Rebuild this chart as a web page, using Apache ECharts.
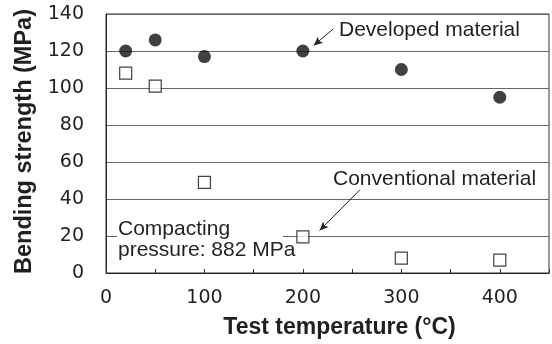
<!DOCTYPE html>
<html><head><meta charset="utf-8">
<script src="https://cdn.jsdelivr.net/npm/echarts@6/dist/echarts.min.js"></script>
<style>html,body{margin:0;padding:0;background:#fff}#c{width:552px;height:344px}</style>
</head><body><div id="c"></div>
<script>
var temperatures = [20, 50, 100, 200, 300, 400];
var developed = [120, 126, 117, 120, 110, 95];
var conventional = [108, 101, 49, 19.5, 8, 7];
var yTicks = [0, 20, 40, 60, 80, 100, 120, 140];
var xTicks = [0, 100, 200, 300, 400];
var arrowDeveloped = [[231, 132], [211, 123]];
var arrowConventional = [[258, 45], [217, 23]];

var chart = echarts.init(document.getElementById('c'));
var txt = '#231f20';
chart.setOption({
  animation: false,
  grid: {left: 106, right: 2, top: 14, bottom: 70, show: true, borderColor: '#333', borderWidth: 1, backgroundColor: 'transparent'},
  xAxis: {
    type: 'value', min: 0, max: 450, interval: 50,
    name: 'Test temperature (°C)', nameLocation: 'middle', nameGap: 43,
    nameTextStyle: {fontFamily: 'Liberation Sans', fontWeight: 'bold', fontSize: 23, color: txt, padding: [0, 0, 0, 24]},
    axisLine: {show: true, lineStyle: {color: '#222', width: 1}},
    axisTick: {show: true, inside: true, length: 4, lineStyle: {color: '#333'}},
    axisLabel: {fontFamily: 'DejaVu Sans', fontSize: 19, color: txt, margin: 16,
      formatter: function (v) { return xTicks.indexOf(v) >= 0 ? String(v) : ''; }},
    splitLine: {show: false}
  },
  yAxis: {
    type: 'value', min: 0, max: 140, interval: 20,
    name: 'Bending strength (MPa)', nameLocation: 'middle', nameGap: 68,
    nameTextStyle: {fontFamily: 'Liberation Sans', fontWeight: 'bold', fontSize: 23.5, color: txt, padding: [0, 0, 0, 4]},
    axisLine: {show: true, lineStyle: {color: '#222', width: 1}},
    axisTick: {show: false},
    axisLabel: {fontFamily: 'DejaVu Sans', fontSize: 19, color: txt, margin: 22,
      formatter: function (v) { return yTicks.indexOf(v) >= 0 ? String(v) : ''; }},
    splitLine: {show: true, lineStyle: {color: '#666', width: 1}}
  },
  graphic: [
    {type: 'rect', shape: {x: 117, y: 224, width: 166, height: 42}, style: {fill: '#fff'}, z: 5},
    {type: 'text', left: 118, top: 219, z: 6, style: {text: 'Compacting\npressure: 882 MPa', font: '21px "Liberation Sans"', fill: txt, lineHeight: 21}},
    {type: 'text', left: 339, top: 20, z: 6, style: {text: 'Developed material', font: '21px "Liberation Sans"', fill: txt}},
    {type: 'text', left: 333, top: 169, z: 6, style: {text: 'Conventional material', font: '21px "Liberation Sans"', fill: txt}}
  ],
  series: [
    {
      name: 'Developed material', type: 'scatter', symbol: 'circle', symbolSize: 13,
      itemStyle: {color: '#111'},
      data: temperatures.map(function (t, i) { return [t, developed[i]]; }),
      z: 10,
      markLine: {
        silent: true, symbol: ['none', 'arrow'], symbolSize: [6, 9],
        lineStyle: {color: '#222', width: 1, type: 'solid'}, label: {show: false},
        data: [[{coord: arrowDeveloped[0]}, {coord: arrowDeveloped[1]}], [{coord: arrowConventional[0]}, {coord: arrowConventional[1]}]]
      }
    },
    {
      name: 'Conventional material', type: 'scatter', symbol: 'rect', symbolSize: 12,
      itemStyle: {color: '#fff', borderColor: '#111', borderWidth: 1.2},
      data: temperatures.map(function (t, i) { return [t, conventional[i]]; }),
      z: 10
    }
  ]
});
</script></body></html>
